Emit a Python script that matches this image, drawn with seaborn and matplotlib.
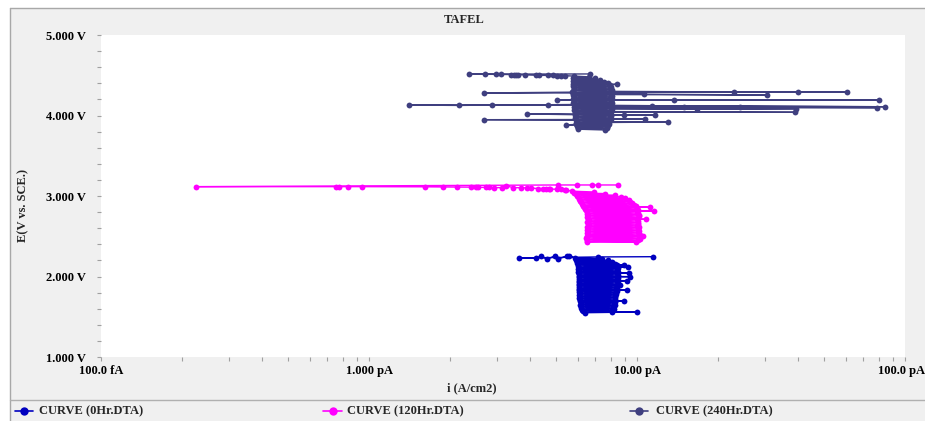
import matplotlib
matplotlib.use("Agg")
import matplotlib.pyplot as plt
import seaborn as sns
import pandas as pd
from matplotlib.lines import Line2D
from matplotlib.patches import Rectangle
from matplotlib.transforms import ScaledTranslation
from matplotlib.ticker import FixedLocator, MultipleLocator, NullFormatter

# ---------------- data (E in V vs SCE, i in pA/cm2), in scan order ----------------
curve_names = ["CURVE (0Hr.DTA)", "CURVE (120Hr.DTA)", "CURVE (240Hr.DTA)"]
curve_colors = ["#0000bf", "#ff00ff", "#3f3f7f"]

# 0 Hr: upper tail, then dense body
e_0hr_tail = [2.246, 2.243, 2.230, 2.228, 2.255, 2.217, 2.255, 2.217, 2.255, 2.255]
i_0hr_tail = [11.5, 7.15, 3.63, 4.20, 4.38, 4.62, 4.95, 5.07, 5.48, 5.57]
e_0hr_body = [2.23, 2.22, 2.21, 2.20, 2.19, 2.18, 2.17, 2.16, 2.15, 2.143, 2.14, 2.13,
              2.12, 2.118, 2.11, 2.10, 2.09, 2.08, 2.07, 2.06, 2.05, 2.043, 2.04, 2.03,
              2.02, 2.01, 2.00, 1.998, 1.99, 1.98, 1.97, 1.96, 1.95, 1.948, 1.94, 1.93,
              1.92, 1.91, 1.90, 1.894, 1.89, 1.88, 1.87, 1.86, 1.85, 1.84, 1.832, 1.83,
              1.82, 1.81, 1.80, 1.79, 1.78, 1.77, 1.76, 1.75, 1.74, 1.73, 1.72, 1.71,
              1.70, 1.696, 1.69, 1.68, 1.67, 1.66, 1.65, 1.64, 1.63, 1.62, 1.61, 1.60,
              1.59, 1.58, 1.57, 1.56, 1.559, 1.55]
i_0hr_body = [5.87, 7.40, 5.90, 7.80, 5.95, 8.10, 5.95, 8.30, 6.00, 8.94, 8.40, 6.00,
              8.45, 9.26, 6.05, 8.50, 6.00, 8.45, 6.05, 8.50, 6.00, 9.33, 8.45, 6.10,
              8.50, 6.05, 8.40, 9.41, 6.05, 8.50, 6.10, 8.40, 6.10, 9.18, 8.45, 6.05,
              8.50, 6.10, 8.40, 8.64, 6.05, 8.45, 6.10, 8.35, 6.05, 8.40, 9.18, 6.10,
              8.40, 6.10, 8.30, 6.15, 8.35, 6.10, 8.30, 6.15, 8.25, 6.10, 8.30, 6.15,
              8.25, 8.94, 6.15, 8.30, 6.20, 8.20, 6.15, 8.25, 6.20, 8.15, 6.20, 8.20,
              6.25, 8.10, 6.30, 8.10, 10.0, 6.40]

# 120 Hr
e_120hr_tail = [3.137, 3.137, 3.137, 3.137, 3.137, 3.116, 3.116, 3.116, 3.116, 3.116,
                3.114, 3.112, 3.111, 3.110, 3.109, 3.108, 3.107, 3.106, 3.105, 3.104,
                3.128, 3.104, 3.103, 3.101, 3.100, 3.092, 3.090, 3.088, 3.087, 3.086,
                3.084, 3.082, 3.078, 3.075]
i_120hr_tail = [8.49, 7.15, 6.80, 5.97, 5.07, 0.226, 0.753, 0.773, 0.835, 0.942,
                1.62, 1.89, 2.13, 2.40, 2.51, 2.55, 2.73, 2.80, 2.93, 3.13,
                3.24, 3.45, 3.69, 3.89, 4.02, 4.27, 4.46, 4.58, 4.69, 4.74,
                5.03, 5.20, 5.39, 5.43]
e_120hr_body = [3.06, 3.05, 3.04, 3.03, 3.02, 3.01, 3.00, 2.99, 2.98, 2.97, 2.96, 2.95,
                2.94, 2.93, 2.92, 2.91, 2.90, 2.89, 2.88, 2.87, 2.860, 2.86, 2.85, 2.84,
                2.83, 2.82, 2.814, 2.81, 2.80, 2.79, 2.78, 2.77, 2.76, 2.75, 2.74, 2.73,
                2.72, 2.711, 2.71, 2.70, 2.69, 2.68, 2.67, 2.66, 2.65, 2.64, 2.63, 2.62,
                2.61, 2.60, 2.59, 2.58, 2.57, 2.56, 2.55, 2.54, 2.53, 2.52, 2.51, 2.503,
                2.50, 2.49, 2.48, 2.47, 2.46, 2.45, 2.44, 2.43, 2.425]
i_120hr_body = [5.72, 6.90, 5.80, 7.60, 5.90, 8.30, 5.95, 8.70, 6.05, 9.00, 6.10, 9.30,
                6.15, 9.45, 6.20, 9.60, 6.25, 9.75, 6.30, 9.90, 11.2, 6.35, 10.00, 6.40,
                10.10, 6.45, 11.6, 10.05, 6.50, 10.00, 6.50, 10.15, 6.55, 10.20, 6.50, 10.05,
                6.55, 10.8, 10.00, 6.60, 10.10, 6.50, 10.05, 6.55, 10.10, 6.60, 10.00, 6.50,
                10.15, 6.55, 10.10, 6.50, 10.20, 6.55, 10.10, 6.50, 10.15, 6.55, 10.30, 10.5,
                6.50, 10.20, 6.45, 10.25, 6.50, 10.10, 6.50, 9.90, 6.50]

# 240 Hr
e_240hr_tail = [4.516, 4.514, 4.512, 4.511, 4.510, 4.509, 4.508, 4.507, 4.506, 4.505,
                4.500, 4.499, 4.498, 4.497, 4.496, 4.495, 4.494]
i_240hr_tail = [6.68, 2.36, 2.71, 2.98, 3.11, 3.39, 3.48, 3.54, 3.60, 3.82,
                4.20, 4.31, 4.65, 4.86, 5.03, 5.20, 5.39]
e_240hr_body = [4.49, 4.48, 4.47, 4.46, 4.45, 4.44, 4.43, 4.42, 4.41, 4.40, 4.39, 4.388,
                4.38, 4.37, 4.36, 4.35, 4.34, 4.33, 4.32, 4.31, 4.30, 4.292, 4.292, 4.292,
                4.29, 4.28, 4.28, 4.267, 4.27, 4.255, 4.26, 4.25, 4.24, 4.23, 4.22, 4.21,
                4.20, 4.193, 4.193, 4.193, 4.19, 4.18, 4.17, 4.16, 4.15, 4.14, 4.134, 4.130,
                4.125, 4.130, 4.13, 4.122, 4.109, 4.12, 4.11, 4.109, 4.102, 4.097, 4.10, 4.09,
                4.084, 4.077, 4.08, 4.07, 4.06, 4.05, 4.040, 4.04, 4.03, 4.02, 4.019, 4.01,
                4.006, 4.006, 4.00, 3.99, 3.98, 3.97, 3.96, 3.957, 3.95, 3.948, 3.94, 3.93,
                3.92, 3.919, 3.91, 3.90, 3.89, 3.882, 3.88, 3.87, 3.86, 3.85, 3.84, 3.83,
                3.82]
i_240hr_body = [5.80, 6.60, 5.75, 7.00, 5.80, 7.30, 5.75, 7.50, 5.80, 7.80, 5.78, 8.42,
                7.90, 5.75, 8.00, 5.82, 7.95, 5.80, 8.10, 5.76, 8.00, 23.0, 39.9, 60.8,
                5.70, 2.69, 8.05, 10.6, 5.80, 30.5, 8.00, 5.78, 8.10, 5.80, 7.95, 5.75,
                8.05, 5.03, 13.7, 80.0, 5.80, 8.00, 5.82, 8.10, 5.78, 8.00, 4.66, 2.88,
                2.17, 1.41, 5.85, 11.4, 84.2, 8.05, 5.80, 15.0, 24.2, 78.6, 8.00, 5.85,
                39.2, 16.7, 8.05, 5.80, 8.00, 5.90, 38.9, 7.95, 5.85, 8.00, 3.89, 5.85,
                11.7, 8.94, 8.00, 5.90, 7.95, 5.88, 8.00, 10.7, 5.90, 2.69, 7.90, 5.95,
                7.85, 13.0, 5.90, 7.85, 5.92, 5.43, 7.80, 5.95, 7.75, 6.00, 7.70, 6.00,
                7.60]

x_tick_values = [0.1, 1.0, 10.0, 100.0]
x_tick_labels = ["100.0 fA", "1.000 pA", "10.00 pA", "100.0 pA"]
y_tick_values = [1, 2, 3, 4, 5]
y_tick_labels = ["1.000 V", "2.000 V", "3.000 V", "4.000 V", "5.000 V"]

# ---------------- style ----------------
sns.set_style("white")
plt.rcParams["font.family"] = ["Liberation Serif", "DejaVu Serif"]
plt.rcParams["font.weight"] = "bold"
FS = 9

W, H = 925, 421
fig = plt.figure(figsize=(W / 100, H / 100), dpi=100, facecolor="white")


def fx(px):
    return px / W


def fy(py):
    return 1 - py / H


# grey panel with border lines (behind the axes)
fig.patches.append(Rectangle((fx(9.5), 0), 1 - fx(9.5), fy(7.5), transform=fig.transFigure,
                             facecolor="#f0f0f0", edgecolor="none", zorder=-10))
fig.add_artist(Line2D([fx(9.5), fx(9.5)], [0, fy(7.5)], transform=fig.transFigure,
                      color="#a8a8a8", lw=1, zorder=-5))
fig.add_artist(Line2D([fx(9.5), 1], [fy(7.5), fy(7.5)], transform=fig.transFigure,
                      color="#a8a8a8", lw=1, zorder=-5))
fig.add_artist(Line2D([fx(9.5), 1], [fy(400), fy(400)], transform=fig.transFigure,
                      color="#b0b0b0", lw=1, zorder=-5))

ax = fig.add_axes([fx(101), fy(357), (905 - 101) / W, (357 - 35) / H])
ax.set_zorder(1)
ax.set_facecolor("white")
for s in ax.spines.values():
    s.set_visible(False)

series = [
    (curve_names[0], e_0hr_tail + e_0hr_body, i_0hr_tail + i_0hr_body),
    (curve_names[1], e_120hr_tail + e_120hr_body, i_120hr_tail + i_120hr_body),
    (curve_names[2], e_240hr_tail + e_240hr_body, i_240hr_tail + i_240hr_body),
]
df = pd.concat([pd.DataFrame({"i": i, "E": e, "curve": n}) for n, e, i in series],
               ignore_index=True)

sns.lineplot(data=df, x="i", y="E", hue="curve", palette=dict(zip(curve_names, curve_colors)),
             sort=False, estimator=None, marker="o", markersize=4.2, linewidth=1.0,
             legend=False, ax=ax)
for ln in ax.lines:
    ln.set_markeredgecolor(ln.get_color())
    ln.set_markerfacecolor(ln.get_color())
    ln.set_markeredgewidth(0)

ax.set_xscale("log")
ax.set_xlim(0.1, 100)
ax.set_ylim(1, 5)
ax.xaxis.set_major_locator(FixedLocator(x_tick_values))
ax.set_xticklabels(x_tick_labels)
ax.xaxis.set_minor_locator(FixedLocator([m * d for d in [0.1, 1, 10] for m in range(2, 10)]))
ax.xaxis.set_minor_formatter(NullFormatter())
ax.yaxis.set_major_locator(FixedLocator(y_tick_values))
ax.set_yticklabels(y_tick_labels)
ax.yaxis.set_minor_locator(MultipleLocator(0.2))
ax.tick_params(which="both", direction="out", color="#a0a0a0", length=3, width=0.8,
               labelsize=FS, labelcolor="black")
ax.tick_params(axis="y", which="both", left=True, pad=8)
ax.tick_params(axis="x", which="both", bottom=True, pad=3)
for lab in ax.get_xticklabels() + ax.get_yticklabels():
    lab.set_fontweight("bold")
last = ax.get_xticklabels()[-1]
last.set_transform(last.get_transform() + ScaledTranslation(-4 / 100, 0, fig.dpi_scale_trans))
ax.set_xlabel("")
ax.set_ylabel("")

# titles / labels
fig.text(fx(464), fy(20), "TAFEL", ha="center", va="center", fontsize=FS, fontweight="bold")
fig.text(fx(472), fy(388), "i (A/cm2)", ha="center", va="center", fontsize=FS, fontweight="bold")
fig.text(fx(23), fy(205), "E(V vs. SCE.)", ha="center", va="center", rotation=90,
         fontsize=FS, fontweight="bold")

# legend (manual, bottom strip)
leg_items = [(15, 33, 39), (323, 342, 347), (630, 648, 656)]
for (x0, x1, xt), name, col in zip(leg_items, curve_names, curve_colors):
    fig.add_artist(Line2D([fx(x0), fx(x1)], [fy(411), fy(411)], transform=fig.transFigure,
                          color=col, lw=1.2))
    fig.add_artist(Line2D([fx((x0 + x1) / 2)], [fy(411)], transform=fig.transFigure,
                          color=col, marker="o", markersize=6, markeredgewidth=0, lw=0))
    fig.text(fx(xt), fy(411), name, ha="left", va="center", fontsize=FS, fontweight="bold")

fig.savefig("out.png", dpi=100, facecolor=fig.get_facecolor())
